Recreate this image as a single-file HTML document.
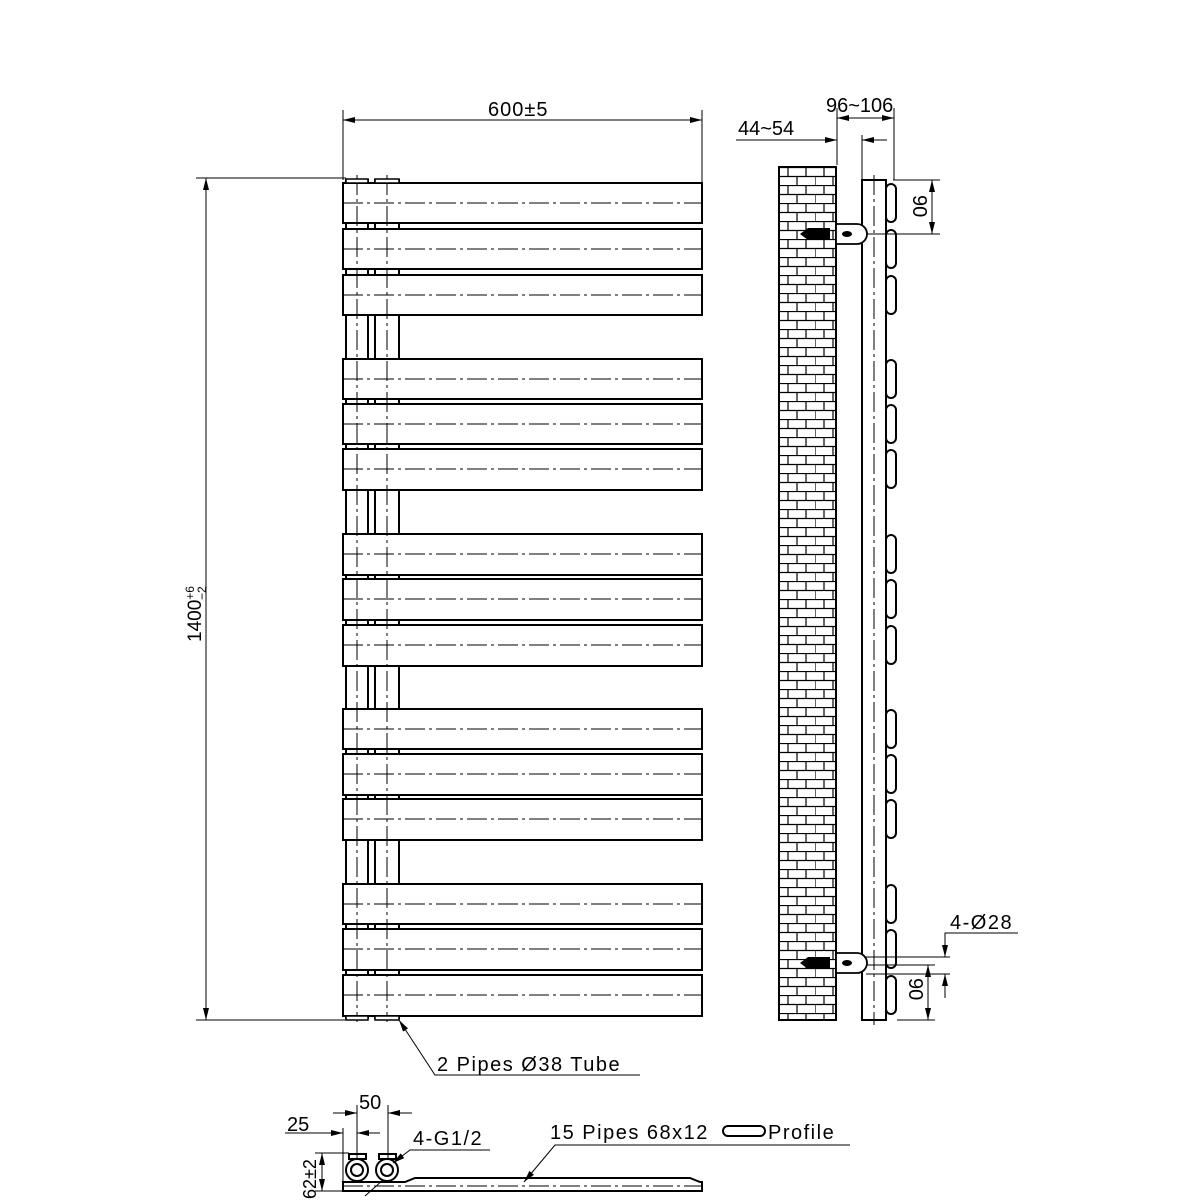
<!DOCTYPE html>
<html><head><meta charset="utf-8"><style>html,body{margin:0;padding:0;background:#fff}svg{display:block}</style></head><body>
<svg width="1200" height="1200" viewBox="0 0 1200 1200" xmlns="http://www.w3.org/2000/svg" font-family="Liberation Sans, DejaVu Sans, sans-serif">
<defs>
<pattern id="brick" x="779" y="167" width="36" height="18" patternUnits="userSpaceOnUse">
<rect width="36" height="18" fill="#fff"/>
<path d="M0 0.5H36M0 9.5H36M9 0V9M27 0V9M0 9V18M18 9V18" stroke="#000" stroke-width="1.2" fill="none"/>
</pattern>
<marker id="ar" markerWidth="12" markerHeight="6" refX="12" refY="3" orient="auto" markerUnits="userSpaceOnUse"><path d="M0 0L12 3L0 6Z" fill="#000"/></marker>
<marker id="as" markerWidth="12" markerHeight="6" refX="0" refY="3" orient="auto" markerUnits="userSpaceOnUse"><path d="M12 0L0 3L12 6Z" fill="#000"/></marker>
</defs>
<g stroke="#000" fill="none">
<rect x="346" y="180" width="22" height="838" stroke-width="2"/>
<rect x="375" y="180" width="24" height="838" stroke-width="2"/>
</g>
<g stroke="#000" stroke-width="2" fill="#fff">
<rect x="343" y="183" width="359" height="40"/><rect x="343" y="229" width="359" height="40"/><rect x="343" y="275" width="359" height="40"/>
<rect x="343" y="359" width="359" height="40"/><rect x="343" y="404" width="359" height="40"/><rect x="343" y="449" width="359" height="41"/>
<rect x="343" y="534" width="359" height="41"/><rect x="343" y="579" width="359" height="41"/><rect x="343" y="625" width="359" height="41"/>
<rect x="343" y="709" width="359" height="40"/><rect x="343" y="754" width="359" height="41"/><rect x="343" y="799" width="359" height="41"/>
<rect x="343" y="884" width="359" height="40"/><rect x="343" y="929" width="359" height="41"/><rect x="343" y="975" width="359" height="41"/>
</g>
<g stroke="#000" stroke-width="1" fill="none" stroke-dasharray="20,4,3,4">
<path d="M343 203H702M343 249H702M343 295H702M343 379H702M343 424H702M343 469H702M343 554H702M343 599H702M343 645H702M343 729H702M343 774H702M343 819H702M343 904H702M343 949H702M343 995H702"/>
<line x1="357" y1="175" x2="357" y2="1022"/><line x1="387" y1="175" x2="387" y2="1022"/>
</g>
<g stroke="#000" stroke-width="1.5" fill="#fff">
<rect x="346" y="179" width="22" height="4"/><rect x="375" y="179" width="24" height="4"/>
<rect x="346" y="1016" width="22" height="4"/><rect x="375" y="1016" width="24" height="4"/>
</g>
<g stroke="#000" stroke-width="1" fill="none">
<line x1="343" y1="110" x2="343" y2="180"/><line x1="702" y1="110" x2="702" y2="183"/>
<line x1="343" y1="120" x2="702" y2="120" marker-start="url(#as)" marker-end="url(#ar)"/>
<line x1="196" y1="178" x2="346" y2="178"/><line x1="196" y1="1020" x2="346" y2="1020"/>
<line x1="206" y1="178" x2="206" y2="1020" marker-start="url(#as)" marker-end="url(#ar)"/>
<polyline points="399,1020 435,1075 640,1075" marker-start="url(#as)"/>
</g>
<text x="488" y="116" font-size="20" letter-spacing="1">600±5</text>
<text transform="translate(201,642) rotate(-90)" font-size="19">1400<tspan font-size="12" dy="-7">+6</tspan><tspan font-size="12" dx="-14" dy="12">−2</tspan></text>
<text x="437" y="1071" font-size="20" letter-spacing="1.5">2 Pipes Ø38 Tube</text>
<rect x="779" y="167" width="57" height="853" fill="url(#brick)" stroke="#000" stroke-width="2"/>
<g stroke="#000" stroke-width="2" fill="#fff">
<rect x="862" y="180" width="24" height="840"/>
</g>
<line x1="874" y1="175" x2="874" y2="1025" stroke="#000" stroke-width="1" stroke-dasharray="20,4,3,4"/>
<g stroke="#000" stroke-width="2" fill="#fff">
<rect x="886" y="184" width="10" height="38" rx="5"/><rect x="886" y="230" width="10" height="38" rx="5"/><rect x="886" y="276" width="10" height="38" rx="5"/>
<rect x="886" y="360" width="10" height="38" rx="5"/><rect x="886" y="405" width="10" height="38" rx="5"/><rect x="886" y="450" width="10" height="38" rx="5"/>
<rect x="886" y="535" width="10" height="38" rx="5"/><rect x="886" y="580" width="10" height="38" rx="5"/><rect x="886" y="626" width="10" height="38" rx="5"/>
<rect x="886" y="710" width="10" height="38" rx="5"/><rect x="886" y="755" width="10" height="38" rx="5"/><rect x="886" y="800" width="10" height="38" rx="5"/>
<rect x="886" y="885" width="10" height="38" rx="5"/><rect x="886" y="930" width="10" height="38" rx="5"/><rect x="886" y="976" width="10" height="38" rx="5"/>
</g>
<g stroke="#000" stroke-width="1.8" fill="#fff">
<path d="M836 224H857A10 10 0 0 1 857 244H836Z"/>
<path d="M836 953H857A10 10 0 0 1 857 973H836Z"/>
</g>
<g fill="#000">
<ellipse cx="847" cy="234" rx="5" ry="3"/><path d="M800 234L808 228H830V240H808Z"/>
<ellipse cx="847" cy="963" rx="5" ry="3"/><path d="M800 963L808 957H830V969H808Z"/>
</g>
<g stroke="#000" stroke-width="1" fill="none">
<line x1="837" y1="108" x2="837" y2="165"/><line x1="862" y1="135" x2="862" y2="180"/><line x1="894" y1="108" x2="894" y2="180"/>
<line x1="837" y1="118" x2="894" y2="118" marker-start="url(#as)" marker-end="url(#ar)"/>
<line x1="736" y1="140" x2="837" y2="140" marker-end="url(#ar)"/>
<line x1="887" y1="140" x2="862" y2="140" marker-end="url(#ar)"/>
<line x1="893" y1="180" x2="940" y2="180"/><line x1="866" y1="234" x2="940" y2="234"/>
<line x1="932" y1="180" x2="932" y2="234" marker-start="url(#as)" marker-end="url(#ar)"/>
<line x1="866" y1="957" x2="950" y2="957"/><line x1="866" y1="974" x2="950" y2="974"/>
<polyline points="1018,933 945,933 945,957" marker-end="url(#ar)"/>
<line x1="945" y1="998" x2="945" y2="974" marker-end="url(#ar)"/>
<line x1="866" y1="965" x2="935" y2="965"/><line x1="897" y1="1020" x2="935" y2="1020"/>
<line x1="928" y1="965" x2="928" y2="1020" marker-start="url(#as)" marker-end="url(#ar)"/>
</g>
<text x="826" y="112" font-size="20">96~106</text>
<text x="738" y="135" font-size="20">44~54</text>
<text transform="translate(913,195) rotate(90)" font-size="20">90</text>
<text transform="translate(909,978) rotate(90)" font-size="20">90</text>
<text x="950" y="929" font-size="20" letter-spacing="1.5">4-Ø28</text>
<g stroke="#000" stroke-width="2" fill="#fff">
<path d="M343 1182H405L415 1178H690L700 1182H702V1191H343Z"/>
<rect x="349" y="1154" width="17" height="5"/><rect x="379" y="1154" width="17" height="5"/>
<circle cx="357" cy="1170" r="11"/><circle cx="387" cy="1170" r="11"/>
<circle cx="357" cy="1170" r="6"/><circle cx="387" cy="1170" r="6"/>
</g>
<g stroke="#000" stroke-width="1" fill="none">
<line x1="343" y1="1186" x2="702" y2="1186" stroke-dasharray="20,4,3,4"/>
<line x1="357" y1="1105" x2="357" y2="1160"/><line x1="388" y1="1105" x2="388" y2="1160"/><line x1="343" y1="1128" x2="343" y2="1182"/>
<line x1="333" y1="1113" x2="357" y2="1113" marker-end="url(#ar)"/><line x1="412" y1="1113" x2="388" y2="1113" marker-end="url(#ar)"/>
<line x1="285" y1="1133" x2="343" y2="1133" marker-end="url(#ar)"/><line x1="380" y1="1133" x2="357" y2="1133" marker-end="url(#ar)"/>
<line x1="315" y1="1153" x2="349" y2="1153"/><line x1="315" y1="1191" x2="343" y2="1191"/>
<line x1="322" y1="1153" x2="322" y2="1191" marker-start="url(#as)" marker-end="url(#ar)"/>
<polyline points="490,1150 410,1150 393,1163" marker-end="url(#ar)"/>
<line x1="383" y1="1180" x2="365" y2="1196"/>
<polyline points="850,1145 555,1145 524,1182" marker-end="url(#ar)"/>
<rect x="723" y="1126" width="42" height="10" rx="5" stroke-width="2"/>
</g>
<text x="359" y="1109" font-size="20">50</text>
<text x="287" y="1131" font-size="20">25</text>
<text transform="translate(316,1199) rotate(-90)" font-size="18">62±2</text>
<text x="413" y="1145" font-size="20" letter-spacing="1.5">4-G1/2</text>
<text x="550" y="1139" font-size="20" letter-spacing="1.5">15 Pipes 68x12</text>
<text x="768" y="1139" font-size="20" letter-spacing="1.5">Profile</text>
</svg>
</body></html>
